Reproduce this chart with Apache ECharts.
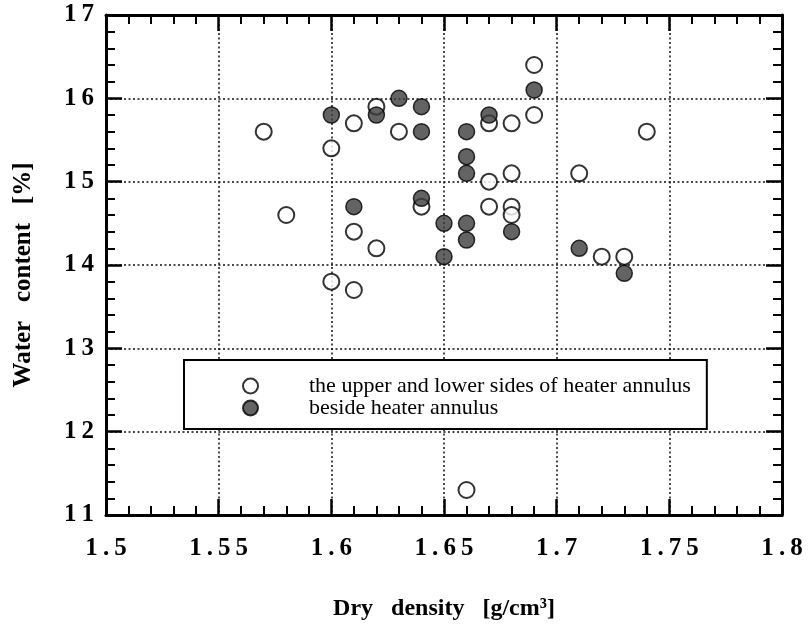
<!DOCTYPE html>
<html>
<head>
<meta charset="utf-8">
<script src="https://cdn.jsdelivr.net/npm/echarts@6/dist/echarts.min.js"></script>
<style>
  html, body { margin: 0; padding: 0; background: #fff; }
  #chart { width: 808px; height: 626px; }
</style>
</head>
<body>
<div id="chart"></div>
<script>
// Series names (legend entries)
const seriesNames = [
  'the upper and lower sides of heater annulus',
  'beside heater annulus'
];

// Upper / lower sides of heater annulus (open circles)
const openDensity = [1.57, 1.58, 1.60, 1.60, 1.61, 1.61, 1.61, 1.62, 1.62, 1.63, 1.64, 1.66, 1.67, 1.67, 1.67, 1.68, 1.68, 1.68, 1.68, 1.69, 1.69, 1.71, 1.72, 1.73, 1.74];
const openWater   = [15.6, 14.6, 15.4, 13.8, 15.7, 14.4, 13.7, 15.9, 14.2, 15.6, 14.7, 11.3, 15.7, 15.0, 14.7, 15.7, 15.1, 14.7, 14.6, 16.4, 15.8, 15.1, 14.1, 14.1, 15.6];

// Beside heater annulus (filled circles)
const filledDensity = [1.60, 1.61, 1.62, 1.63, 1.64, 1.64, 1.64, 1.65, 1.65, 1.66, 1.66, 1.66, 1.66, 1.66, 1.67, 1.68, 1.69, 1.71, 1.73];
const filledWater   = [15.8, 14.7, 15.8, 16.0, 15.9, 15.6, 14.8, 14.5, 14.1, 15.6, 15.3, 15.1, 14.5, 14.3, 15.8, 14.4, 16.1, 14.2, 13.9];

// Axis ranges and titles
const xRange = [1.5, 1.8], xStep = 0.05;
const yRange = [11, 17], yStep = 1;
const xTitle = 'Dry   density   [g/cm³]';
const yTitle = 'Water   content   [%]';

const pairs = (xs, ys) => xs.map((x, i) => [x, ys[i]]);
const spaced = s => s.split('').join('\u2009');
const fmt = v => spaced(parseFloat((+v).toFixed(2)).toString());

const serif = '"Liberation Serif", "Times New Roman", "DejaVu Serif", serif';

const tickCommon = {
  axisLine: { show: true, onZero: false, lineStyle: { color: '#000', width: 3 } },
  axisTick: { show: true, inside: true, length: 16, lineStyle: { color: '#000', width: 2.5 } },
  minorTick: { show: true, splitNumber: 5, length: 9, lineStyle: { color: '#000', width: 2 } },
  minorSplitLine: { show: false }
};

const gridLine = { show: true, lineStyle: { color: '#111', width: 1.5, type: [2, 2.5] } };

const chart = echarts.init(document.getElementById('chart'), null, { renderer: 'canvas' });

chart.setOption({
  animation: false,
  backgroundColor: '#fff',
  grid: { left: 106, right: 26, top: 15, bottom: 110 },
  legend: {
    orient: 'vertical',
    left: 184,
    top: 360,
    backgroundColor: '#fff',
    borderColor: '#000',
    borderWidth: 2,
    borderRadius: 0,
    padding: [15, 16, 10, 58],
    itemWidth: 15,
    itemHeight: 15,
    itemGap: 0,
    icon: 'circle',
    textStyle: {
      fontFamily: serif,
      fontSize: 22,
      lineHeight: 20,
      color: '#000',
      padding: [0, 0, 0, 46]
    },
    data: seriesNames
  },
  xAxis: [
    Object.assign({
      type: 'value', position: 'bottom',
      min: xRange[0], max: xRange[1], interval: xStep,
      axisLabel: { margin: 21, formatter: fmt, fontFamily: serif, fontWeight: 'bold', fontSize: 25, color: '#000' },
      splitLine: gridLine,
      name: xTitle, nameLocation: 'middle', nameGap: 82,
      nameTextStyle: { fontFamily: serif, fontWeight: 'bold', fontSize: 24, color: '#000' }
    }, tickCommon),
    Object.assign({
      type: 'value', position: 'top',
      min: xRange[0], max: xRange[1], interval: xStep,
      axisLabel: { show: false }, splitLine: { show: false }
    }, tickCommon)
  ],
  yAxis: [
    Object.assign({
      type: 'value', position: 'left',
      min: yRange[0], max: yRange[1], interval: yStep,
      axisLabel: { margin: 12, formatter: fmt, fontFamily: serif, fontWeight: 'bold', fontSize: 25, color: '#000' },
      splitLine: gridLine,
      name: yTitle, nameLocation: 'middle', nameGap: 70, nameRotate: 90,
      nameTextStyle: { fontFamily: serif, fontWeight: 'bold', fontSize: 25, color: '#000', padding: [0, 20, 0, 0] }
    }, tickCommon),
    Object.assign({
      type: 'value', position: 'right',
      min: yRange[0], max: yRange[1], interval: yStep,
      axisLabel: { show: false }, splitLine: { show: false }
    }, tickCommon)
  ],
  series: [
    {
      name: seriesNames[0],
      type: 'scatter',
      xAxisIndex: 0, yAxisIndex: 0,
      symbol: 'circle',
      symbolSize: 16,
      itemStyle: { color: '#fff', borderColor: '#000', borderWidth: 2 },
      data: pairs(openDensity, openWater),
      z: 3
    },
    {
      name: seriesNames[1],
      type: 'scatter',
      xAxisIndex: 0, yAxisIndex: 0,
      symbol: 'circle',
      symbolSize: 16,
      itemStyle: { color: '#3c3c3c', borderColor: '#000', borderWidth: 1.5 },
      data: pairs(filledDensity, filledWater),
      z: 4
    }
  ]
});
</script>
</body>
</html>
